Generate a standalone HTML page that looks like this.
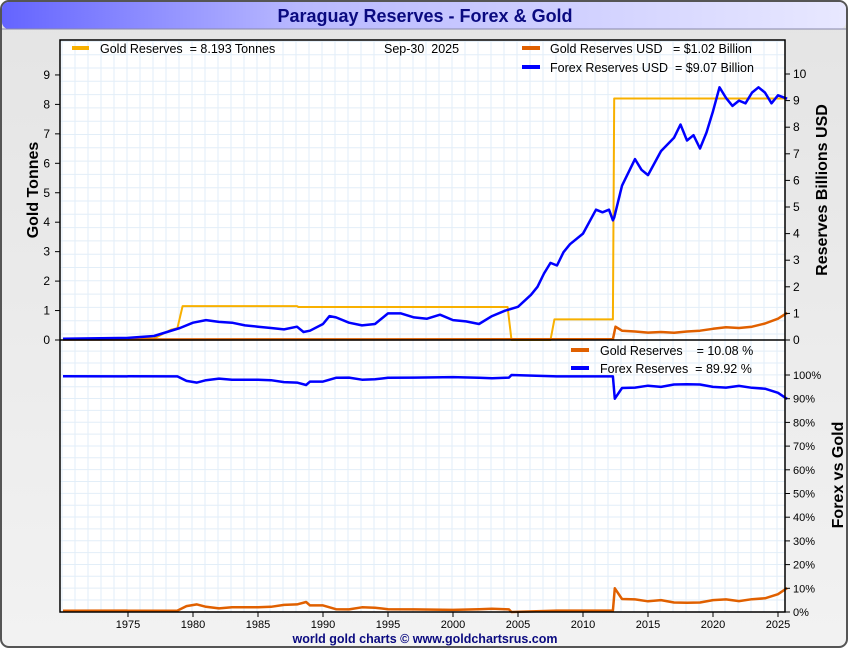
<!DOCTYPE html>
<html><head><meta charset="utf-8"><style>
body{margin:0;width:850px;height:650px;overflow:hidden;font-family:"Liberation Sans",sans-serif;background:#fff}
text{white-space:pre}
</style></head><body>
<svg id="c" width="850" height="650" xmlns="http://www.w3.org/2000/svg" xml:space="preserve" font-family="Liberation Sans, sans-serif">
<defs>
<linearGradient id="tb" x1="0" x2="1" y1="0" y2="0"><stop offset="0" stop-color="#6464ff"/><stop offset="0.35" stop-color="#b8b8ff"/><stop offset="1" stop-color="#e8e8ff"/></linearGradient>
<linearGradient id="bg" x1="0" x2="0" y1="0" y2="1"><stop offset="0" stop-color="#e4e4e4"/><stop offset="1" stop-color="#f2f2f2"/></linearGradient>
</defs>
<rect x="1" y="1" width="846" height="646" rx="8" fill="url(#bg)" stroke="#555" stroke-width="2"/>
<rect x="2" y="2" width="844" height="27" rx="7" fill="url(#tb)"/>
<line x1="2" y1="29" x2="846" y2="29" stroke="#8888aa"/>
<text x="425" y="22" text-anchor="middle" font-size="18" font-weight="bold" fill="#0a0a80">Paraguay Reserves - Forex &amp; Gold</text>
<rect x="60" y="40" width="725" height="572" fill="#fff"/>
<g id="grid"></g>
<g id="series"></g>
<line x1="60" y1="340" x2="785" y2="340" stroke="#000" stroke-width="1.5"/>
<rect x="60" y="40" width="725" height="572" fill="none" stroke="#000" stroke-width="1.5"/>
<g id="axes" font-size="12" fill="#000"></g>
<text transform="translate(38,190) rotate(-90)" text-anchor="middle" font-size="16" font-weight="bold">Gold Tonnes</text>
<text transform="translate(827,190) rotate(-90)" text-anchor="middle" font-size="16" font-weight="bold">Reserves Billions USD</text>
<text transform="translate(843,475) rotate(-90)" text-anchor="middle" font-size="16" font-weight="bold">Forex vs Gold</text>
<g font-size="12.5">
<line x1="72" y1="48" x2="89" y2="48" stroke="#f8b000" stroke-width="4"/>
<text x="100" y="53">Gold Reserves  = 8.193 Tonnes</text>
<text x="384" y="53">Sep-30  2025</text>
<line x1="522" y1="48" x2="540" y2="48" stroke="#e06000" stroke-width="4"/>
<text x="550" y="53">Gold Reserves USD   = $1.02 Billion</text>
<line x1="522" y1="67" x2="540" y2="67" stroke="#0000ff" stroke-width="4"/>
<text x="550" y="72">Forex Reserves USD  = $9.07 Billion</text>
</g>
<g font-size="12.5">
<line x1="571" y1="350" x2="589" y2="350" stroke="#e06000" stroke-width="4"/>
<text x="600" y="355">Gold Reserves    = 10.08 %</text>
<line x1="571" y1="368" x2="589" y2="368" stroke="#0000ff" stroke-width="4"/>
<text x="600" y="373">Forex Reserves  = 89.92 %</text>
</g>
<text x="425" y="643" text-anchor="middle" font-size="12.5" font-weight="bold" fill="#0a0a80">world gold charts © www.goldchartsrus.com</text>
</svg>
<script>
const goldYears=[1970,1977,1978.3,1978.8,1979.2,1988,1988.1,2004.2,2004.5,2007.5,2007.8,2012.3,2012.4,2025.7];
const goldTonnes=[0.05,0.05,0.35,0.4,1.15,1.15,1.12,1.12,0,0,0.7,0.7,8.2,8.2];
const forexYears=[1970,1975,1977,1978,1979,1980,1981,1982,1983,1984,1985,1986,1987,1988,1988.5,1989,1990,1990.5,1991,1992,1993,1994,1995,1996,1997,1998,1999,2000,2001,2002,2003,2004,2005,2006,2006.5,2007,2007.5,2008,2008.5,2009,2010,2011,2011.5,2012,2012.3,2012.4,2013,2014,2014.5,2015,2016,2017,2017.5,2018,2018.5,2019,2019.5,2020,2020.5,2021,2021.5,2022,2022.5,2023,2023.5,2024,2024.5,2025,2025.7];
const forexUSD=[0.05,0.08,0.15,0.3,0.45,0.65,0.75,0.68,0.65,0.55,0.5,0.45,0.4,0.5,0.3,0.35,0.6,0.9,0.85,0.65,0.55,0.6,1.0,1.0,0.85,0.8,0.95,0.75,0.7,0.6,0.9,1.1,1.25,1.7,2.0,2.5,2.9,2.8,3.3,3.6,4.0,4.9,4.8,4.9,4.5,4.6,5.8,6.8,6.4,6.2,7.1,7.6,8.1,7.5,7.7,7.2,7.8,8.6,9.5,9.1,8.8,9.0,8.9,9.3,9.5,9.3,8.9,9.2,9.07];
const goldUsdYears=[1970,2012.3,2012.5,2013,2014,2015,2016,2017,2018,2019,2020,2021,2022,2023,2024,2025,2025.7];
const goldUSD=[0.02,0.03,0.5,0.35,0.32,0.28,0.3,0.27,0.32,0.35,0.42,0.48,0.45,0.5,0.62,0.8,1.02];
const pctYears=[1970,1978.8,1979.5,1980.3,1981,1982,1983,1985,1986,1987,1988,1988.7,1989,1990,1991,1992,1993,1994,1995,1997,2000,2002,2003,2004.3,2004.5,2008,2012.3,2012.45,2013,2014,2015,2016,2017,2018,2019,2020,2021,2022,2023,2024,2025,2025.7];
const goldPct=[0.5,0.6,2.5,3.2,2.2,1.5,2,2,2.2,3,3.2,4.2,2.8,2.8,1.2,1.1,2,1.8,1.2,1.1,0.9,1.2,1.4,1.1,0,0.6,0.6,10,5.5,5.3,4.5,5,4,3.9,4,5,5.3,4.6,5.4,5.8,7.5,10.08];
const yearTicks=[1975,1980,1985,1990,1995,2000,2005,2010,2015,2020,2025];
const tonneTicks=[0,1,2,3,4,5,6,7,8,9];
const usdTicks=[0,1,2,3,4,5,6,7,8,9,10];
const pctTicks=[0,10,20,30,40,50,60,70,80,90,100];

const NS='http://www.w3.org/2000/svg';
const X=y=>60+(y-1969.77)*13;
const YT=v=>340-v*29.45;
const YU=v=>340-v*26.6;
const YP=v=>612-v*2.37;
function mk(tag,attrs,parent){const e=document.createElementNS(NS,tag);for(const k in attrs)e.setAttribute(k,attrs[k]);parent.appendChild(e);return e;}
const grid=document.getElementById('grid'),ser=document.getElementById('series'),ax=document.getElementById('axes');
for(let x=62;x<785;x+=13){const l=mk('line',{x1:x,y1:40,x2:x,y2:612,stroke:'#e2eef8','stroke-width':1},grid);

}
for(let y=334;y>40;y-=13.3){const l=mk('line',{x1:60,y1:y,x2:785,y2:y,stroke:'#e2eef8'},grid);

}
for(let y=600;y>340;y-=11.85){const l=mk('line',{x1:60,y1:y,x2:785,y2:y,stroke:'#e2eef8'},grid);

}
function path(xs,vs,fy,color,w,name){const d=xs.map((y,i)=>(i?'L':'M')+X(y).toFixed(1)+','+fy(vs[i]).toFixed(1)).join('');
const p=mk('path',{d:d,fill:'none',stroke:color,'stroke-width':w,'stroke-linejoin':'round'},ser);

}
path(goldYears,goldTonnes,YT,'#f8b000',2,'gold-tonnes-line');
path(goldUsdYears,goldUSD,YU,'#e06000',2.5,'gold-usd-line');
path(forexYears,forexUSD,YU,'#0000ff',2.5,'forex-usd-line');
path(pctYears,goldPct,YP,'#e06000',2.5,'gold-percent-line');
path(pctYears,goldPct.map(v=>100-v),YP,'#0000ff',2.5,'forex-percent-line');
tonneTicks.forEach(v=>{const y=YT(v);mk('line',{x1:55,y1:y,x2:60,y2:y,stroke:'#000'},ax);
const t=mk('text',{x:50,y:y+4,'text-anchor':'end'},ax);t.textContent=v;

});
usdTicks.forEach(v=>{const y=YU(v);mk('line',{x1:785,y1:y,x2:790,y2:y,stroke:'#000'},ax);
const t=mk('text',{x:793,y:y+4},ax);t.textContent=v;

});
pctTicks.forEach(v=>{const y=YP(v);mk('line',{x1:785,y1:y,x2:790,y2:y,stroke:'#000'},ax);
const t=mk('text',{x:793,y:y+4,'font-size':11},ax);t.textContent=v+'%';

});
yearTicks.forEach(v=>{const x=X(v);mk('line',{x1:x,y1:612,x2:x,y2:617,stroke:'#000'},ax);
const t=mk('text',{x:x,y:628,'text-anchor':'middle','font-size':11},ax);t.textContent=v;

});
</script>
</body></html>
